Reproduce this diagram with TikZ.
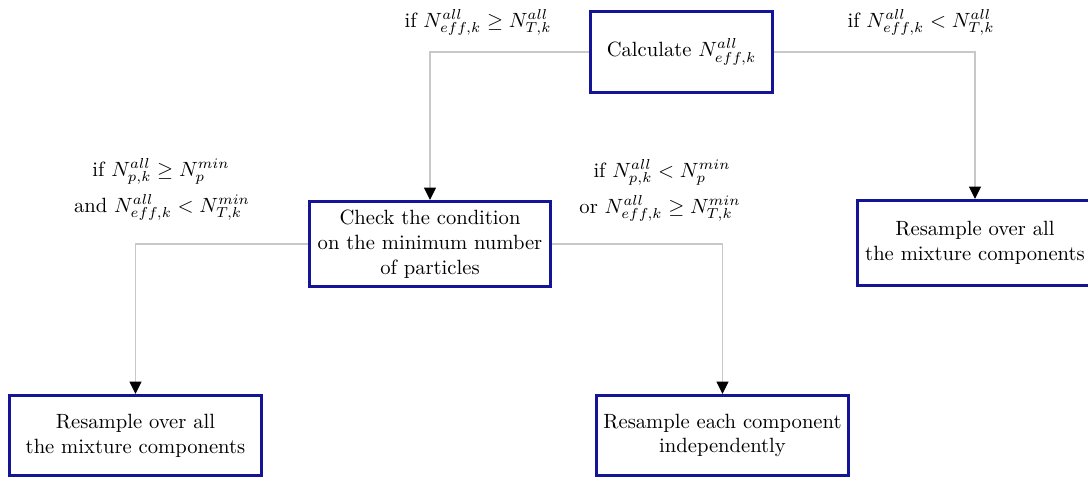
\documentclass[tikz,border=0pt]{standalone}
\usetikzlibrary{arrows.meta}
\definecolor{boxblue}{RGB}{20,20,150}
\definecolor{linegray}{RGB}{200,200,200}
\begin{document}
\begin{tikzpicture}[x=0.485pt,y=-0.485pt,
  box/.style={draw=boxblue, line width=1.4pt, fill=white, align=center, inner sep=0pt},
  conn/.style={draw=linegray, line width=0.7pt, -{Triangle[width=5.8pt,length=6pt,color=black]}},
  lab/.style={anchor=base, inner sep=0pt}]
\useasboundingbox (0,0) rectangle (1088,479);
\node[box, minimum width=88.3pt, minimum height=39.3pt] (calc) at (681.5,52) {Calculate $N^{all}_{eff,k}$};
\node[box, minimum width=116.5pt, minimum height=41.3pt] (check) at (430,244) {Check the condition\\on the minimum number\\of particles};
\node[box, minimum width=114pt, minimum height=41.3pt] (resR) at (975,243) {Resample over all\\the mixture components};
\node[box, minimum width=122.3pt, minimum height=38.9pt] (resL) at (135.5,435.5) {Resample over all\\the mixture components};
\node[box, minimum width=122.3pt, minimum height=38.9pt] (resI) at (722.5,435.5) {Resample each component\\independently};
\draw[conn] (calc.west) -| (check.north);
\draw[conn] (calc.east) -| (resR.north);
\draw[conn] (check.west) -| (resL.north);
\draw[conn] (check.east) -| (resI.north);
\node[lab] (l1) at (478,27) {if $N^{all}_{eff,k} \geq N^{all}_{T,k}$};
\node[lab] (l2) at (921,27) {if $N^{all}_{eff,k} < N^{all}_{T,k}$};
\node[lab] (l3a) at (161,176) {if $N^{all}_{p,k} \geq N^{min}_{p}$};
\node[lab] (l3b) at (162,212) {and $N^{all}_{eff,k} < N^{min}_{T,k}$};
\node[lab] (l4a) at (662,177) {if $N^{all}_{p,k} < N^{min}_{p}$};
\node[lab] (l4b) at (660,213) {or $N^{all}_{eff,k} \geq N^{min}_{T,k}$};
\end{tikzpicture}
\end{document}
